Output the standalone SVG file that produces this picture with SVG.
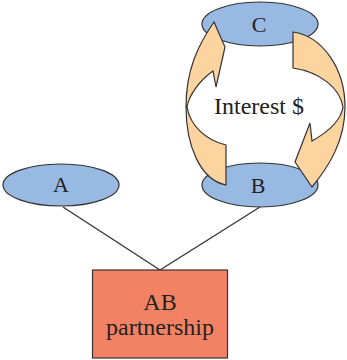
<svg xmlns="http://www.w3.org/2000/svg" width="347" height="360" viewBox="0 0 347 360">
<style>
.ell{fill:#98b9e1;stroke:#333;stroke-width:1.2}
.arr{fill:#fdd39f;stroke:#333;stroke-width:1.2;stroke-linejoin:miter}
text{font-family:'Liberation Serif','DejaVu Serif',serif;fill:#222;text-anchor:middle}
.edge{stroke:#333;stroke-width:1.3;fill:none}
</style>
<rect width="347" height="360" fill="#fff"/>
<g id="connectors">
<line class="edge" x1="63" y1="207" x2="160" y2="270"/>
<line class="edge" x1="260" y1="207" x2="160" y2="270"/>
</g>
<g id="node-A">
<ellipse class="ell" cx="61" cy="185" rx="58" ry="21"/>
<text x="61" y="192" font-size="22">A</text>
</g>
<g id="node-C">
<ellipse class="ell" cx="260" cy="24" rx="58" ry="22"/>
<text x="259" y="32" font-size="22">C</text>
</g>
<g id="node-B">
<ellipse class="ell" cx="260" cy="185" rx="58" ry="22"/>
<text x="258" y="193" font-size="22">B</text>
</g>
<g id="arrows">
<path class="arr" d="M226,185 C200,180 186,145 186,107 C186,70 198,45 214,22 L225,47 L216,87 L213,71 C200,80 189,95 187,107 C190,125 205,140 226,145 Z"/>
<path class="arr" d="M293,32 C322,36 345,68 345,107 C345,140 330,165 312,187 L295,162 L310,123 L312,141 C328,132 341,120 343,107 C340,88 320,72 293,68 Z"/>
<text x="259" y="114" font-size="24">Interest $</text>
</g>
<g id="node-AB">
<rect x="92.5" y="270" width="135" height="88" fill="#f28263" stroke="#333" stroke-width="1.2"/>
<text x="160" y="310" font-size="24">AB</text>
<text x="160" y="335" font-size="24">partnership</text>
</g>
</svg>
